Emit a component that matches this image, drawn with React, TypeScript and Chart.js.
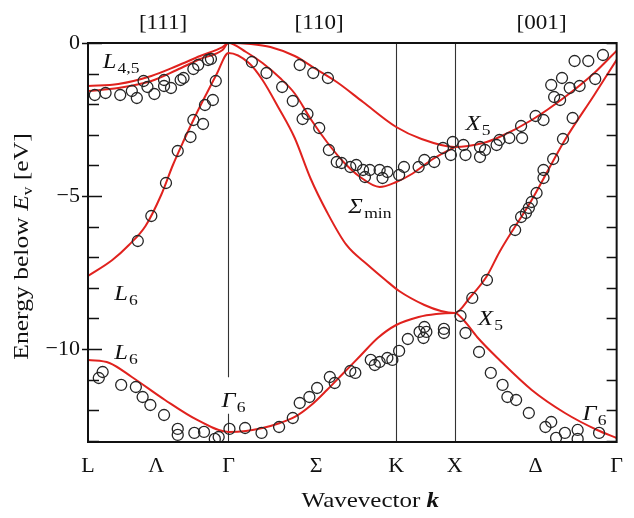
import React, { useEffect, useRef } from "react";
import { Chart, registerables } from "chart.js";

Chart.register(...registerables);

const FONT = "'Liberation Serif', 'Times New Roman', serif";
const RED = "rgb(224,34,30)";
const STRETCH = 1.17;

// Path positions (k in units of 2π/a) of the symmetry points L, Γ, K, X, Γ
const symPointK = [0, 0.872, 1.913, 2.276, 3.281];
const xTickK = [0, 0.424, 0.872, 1.416, 1.913, 2.276, 2.778, 3.281];
const xTickLabels = ["L", "Λ", "Γ", "Σ", "K", "X", "Δ", "Γ"];
const dirLabels = ["[111]", "[110]", "[001]"];
const dirK = [0.466, 1.435, 2.815];
const yTickValues = [0, -5, -10];
const yMin = -13.04;
const yMax = 0;

// Calculated bands (red lines)
const band1K = [0, 0.188, 0.393, 0.551, 0.696, 0.835, 0.872, 1.011, 1.132, 1.283, 1.404, 1.544, 1.707, 1.913, 2.07, 2.276, 2.452, 2.554, 2.754, 2.96, 3.142, 3.281];
const band1E = [-1.405, -1.34, -1.078, -0.752, -0.425, -0.131, 0, -0.033, -0.131, -0.425, -0.817, -1.275, -1.928, -2.745, -3.137, -3.399, -3.268, -3.072, -2.516, -1.765, -0.98, -0.25];

const band2K = [0, 0.188, 0.393, 0.551, 0.696, 0.835, 0.872, 0.981, 1.083, 1.192, 1.283, 1.386, 1.483, 1.586, 1.689, 1.81, 1.913, 2.01, 2.131, 2.276];
const band2E = [-1.569, -1.471, -1.242, -0.882, -0.523, -0.229, 0, -0.294, -0.654, -1.144, -1.65, -2.516, -3.235, -3.889, -4.379, -4.706, -4.542, -4.281, -3.824, -3.399];

const band3K = [0, 0.151, 0.254, 0.357, 0.454, 0.527, 0.593, 0.672, 0.738, 0.799, 0.872, 0.999, 1.083, 1.18, 1.283, 1.38, 1.483, 1.604, 1.737, 1.846, 1.931, 2.088, 2.191, 2.276, 2.373, 2.476, 2.554, 2.754, 2.96, 3.142, 3.281];
const band3E = [-7.614, -7.092, -6.601, -5.98, -4.967, -3.987, -3.203, -2.32, -1.634, -1.013, -0.327, -0.654, -1.209, -2.092, -3.105, -4.412, -5.523, -6.601, -7.255, -7.745, -8.105, -8.562, -8.758, -8.824, -8.301, -7.614, -6.83, -5.131, -3.17, -1.699, -0.55];

const band4K = [0, 0.133, 0.272, 0.478, 0.678, 0.872, 0.981, 1.083, 1.192, 1.283, 1.386, 1.483, 1.586, 1.689, 1.798, 1.913, 2.052, 2.161, 2.276, 2.336, 2.415, 2.554, 2.754, 2.96, 3.16, 3.281];
const band4E = [-10.359, -10.458, -10.915, -11.667, -12.32, -12.712, -12.68, -12.582, -12.418, -12.222, -11.83, -11.34, -10.784, -10.229, -9.641, -9.216, -8.954, -8.856, -8.824, -9.085, -9.608, -10.359, -11.34, -12.092, -12.647, -12.908];

// Measured data (open circles)
const measK = [
  0.042, 0.109, 0.2, 0.272, 0.303, 0.345, 0.369, 0.412, 0.472, 0.472, 0.515, 0.575, 0.593, 0.654, 0.684, 0.745, 0.763, 0.793, 0.775, 0.726,
  0.654, 0.714, 0.636, 0.557, 0.484, 0.393, 0.309,
  1.017, 1.108, 1.205, 1.271, 1.314, 1.362, 1.332, 1.398, 1.435, 1.489, 1.495, 1.544, 1.574, 1.628, 1.665, 1.707, 1.719, 1.749, 1.81, 1.828, 1.858, 1.931, 1.961, 2.052, 2.088, 2.149, 2.203, 2.252, 2.264, 2.33, 2.343, 2.433, 2.433, 2.464, 2.536, 2.554, 2.615, 2.694, 2.688,
  2.778, 2.827, 2.875, 2.893, 2.93, 2.942, 2.99, 3.051, 3.02, 3.105, 3.148, 3.196,
  3.008, 2.948, 2.887, 2.827, 2.827, 2.784, 2.754, 2.736, 2.718, 2.688, 2.651, 2.476, 2.385, 2.312,
  0.067, 0.091, 0.206, 0.297, 0.339, 0.387, 0.472, 0.557, 0.557, 0.66, 0.72, 0.787, 0.811, 0.878, 0.975, 1.077, 1.186, 1.271, 1.314, 1.374, 1.422, 1.501, 1.531, 1.628, 1.659, 1.755, 1.78, 1.81, 1.858, 1.889, 1.931, 1.985, 2.058, 2.088, 2.082, 2.1, 2.209, 2.209, 2.343,
  2.427, 2.5, 2.573, 2.603, 2.657, 2.736, 2.839, 2.875, 2.905, 2.96, 3.039, 3.039, 3.172,
];
const measE = [
  -1.699, -1.634, -1.699, -1.569, -1.797, -1.242, -1.438, -1.667, -1.209, -1.405, -1.471, -1.209, -1.144, -0.85, -0.719, -0.556, -0.523, -1.242, -1.863, -2.026,
  -2.516, -2.647, -3.072, -3.529, -4.575, -5.654, -6.471,
  -0.621, -0.98, -1.438, -1.895, -0.719, -2.32, -2.484, -0.98, -2.778, -1.144, -3.497, -3.889, -3.922, -4.052, -3.987, -4.15, -4.379, -4.15, -4.15, -4.412, -4.216, -4.314, -4.052, -4.052, -3.824, -3.889, -3.431, -3.66, -3.235, -3.333, -3.66, -3.399, -3.725, -3.497, -3.333, -3.17, -3.105, -3.105, -2.712,
  -2.386, -2.516, -1.373, -1.765, -1.863, -1.144, -1.471, -1.405, -0.588, -0.588, -1.176, -0.392,
  -2.451, -3.137, -3.791, -4.15, -4.412, -4.902, -5.196, -5.392, -5.556, -5.686, -6.111, -7.745, -8.333, -8.922,
  -10.948, -10.752, -11.176, -11.242, -11.569, -11.83, -12.157, -12.614, -12.81, -12.745, -12.712, -12.941, -12.876, -12.614, -12.582, -12.745, -12.549, -12.255, -11.765, -11.569, -11.275, -10.915, -11.111, -10.719, -10.784, -10.359, -10.523, -10.425, -10.294, -10.359, -10.065, -9.673, -9.444, -9.281, -9.641, -9.444, -9.346, -9.477, -9.477,
  -10.098, -10.784, -11.176, -11.569, -11.667, -12.092, -12.549, -12.386, -12.908, -12.745, -12.647, -12.941, -12.745,
];

// Level labels
const labelMain = ["L", "X", "Σ", "L", "L", "Γ", "X", "Γ"];
const labelSub = ["4,5", "5", "min", "6", "6", "6", "5", "6"];
const labelK = [0.091, 2.343, 1.616, 0.163, 0.163, 0.829, 2.421, 3.069];
const labelE = [-0.82, -2.843, -5.556, -8.399, -10.327, -11.895, -9.216, -12.32];

const gammaGapE = [-10.92, -12.12];
const xTitleK = 1.752;

const zip = (ks: number[], es: number[]) => ks.map((k, i) => ({ x: k, y: es[i] }));

type Run = { text: string; font: string; dy?: number };

function drawRuns(ctx: CanvasRenderingContext2D, runs: Run[], x: number, y: number, align: "left" | "center", stretch: number) {
  const widths = runs.map((r) => {
    ctx.font = r.font;
    return ctx.measureText(r.text).width;
  });
  const total = widths.reduce((a, b) => a + b, 0) * stretch;
  let cx = align === "center" ? x - total / 2 : x;
  ctx.textAlign = "left";
  ctx.textBaseline = "alphabetic";
  runs.forEach((r, i) => {
    ctx.save();
    ctx.translate(cx, y + (r.dy || 0));
    ctx.scale(stretch, 1);
    ctx.font = r.font;
    ctx.fillText(r.text, 0, 0);
    ctx.restore();
    cx += widths[i] * stretch;
  });
}

const decorPlugin = {
  id: "decor",
  beforeDatasetsDraw(chart: any) {
    const { ctx, chartArea: a, scales } = chart;
    const x = scales.x;
    const y = scales.y;
    ctx.save();
    ctx.strokeStyle = "#333";
    ctx.lineWidth = 1.1;
    const gx = Math.round(x.getPixelForValue(symPointK[1])) + 0.5;
    ctx.beginPath();
    ctx.moveTo(gx, a.top);
    ctx.lineTo(gx, y.getPixelForValue(gammaGapE[0]));
    ctx.moveTo(gx, y.getPixelForValue(gammaGapE[1]));
    ctx.lineTo(gx, a.bottom);
    [symPointK[2], symPointK[3]].forEach((k) => {
      const px = Math.round(x.getPixelForValue(k)) + 0.5;
      ctx.moveTo(px, a.top);
      ctx.lineTo(px, a.bottom);
    });
    ctx.stroke();
    ctx.restore();
  },
  afterDatasetsDraw(chart: any) {
    const { ctx, chartArea: a, scales } = chart;
    const x = scales.x;
    const y = scales.y;
    ctx.save();
    // frame
    ctx.strokeStyle = "#111";
    ctx.lineWidth = 2;
    ctx.strokeRect(a.left, a.top, a.right - a.left, a.bottom - a.top);
    // inward ticks every 1 eV
    ctx.lineWidth = 1.3;
    ctx.beginPath();
    for (let v = 0; v >= Math.ceil(yMin); v--) {
      const py = Math.round(y.getPixelForValue(v)) + 0.5;
      const major = yTickValues.includes(v);
      ctx.moveTo(a.left - (major ? 6 : 0), py);
      ctx.lineTo(a.left + (major ? 14 : 11), py);
      ctx.moveTo(a.right - 10, py);
      ctx.lineTo(a.right, py);
    }
    ctx.stroke();

    ctx.fillStyle = "#111";
    // direction labels on top
    dirLabels.forEach((t, i) => {
      drawRuns(ctx, [{ text: t, font: `21px ${FONT}` }], x.getPixelForValue(dirK[i]), 29, "center", 1.1);
    });
    // level labels
    labelMain.forEach((m, i) => {
      drawRuns(
        ctx,
        [
          { text: m, font: `italic 21px ${FONT}` },
          { text: " ", font: `4px ${FONT}` },
          { text: labelSub[i], font: `15px ${FONT}`, dy: 5 },
        ],
        x.getPixelForValue(labelK[i]),
        y.getPixelForValue(labelE[i]),
        "left",
        STRETCH
      );
    });
    // x title
    drawRuns(
      ctx,
      [
        { text: "Wavevector ", font: `21px ${FONT}` },
        { text: "k", font: `italic bold 21px ${FONT}` },
      ],
      x.getPixelForValue(xTitleK),
      507,
      "center",
      1.19
    );
    // y title
    ctx.save();
    ctx.translate(28, (a.top + a.bottom) / 2 + 4);
    ctx.rotate(-Math.PI / 2);
    drawRuns(
      ctx,
      [
        { text: "Energy below ", font: `21px ${FONT}` },
        { text: "E", font: `italic 21px ${FONT}` },
        { text: "v", font: `14px ${FONT}`, dy: 4 },
        { text: " [eV]", font: `21px ${FONT}` },
      ],
      0,
      0,
      "center",
      1.22
    );
    ctx.restore();
    ctx.restore();
  },
};

export default function App() {
  const ref = useRef<HTMLCanvasElement>(null);
  useEffect(() => {
    const canvas = ref.current;
    if (!canvas) return;
    const lineDs = (ks: number[], es: number[]) => ({
      data: zip(ks, es),
      showLine: true,
      borderColor: RED,
      borderWidth: 2,
      pointRadius: 0,
      pointHoverRadius: 0,
      cubicInterpolationMode: "monotone" as const,
      fill: false,
      order: 2,
    });
    const chart = new Chart(canvas, {
      type: "scatter",
      data: {
        datasets: [
          lineDs(band1K, band1E),
          lineDs(band2K, band2E),
          lineDs(band3K, band3E),
          lineDs(band4K, band4E),
          {
            data: zip(measK, measE),
            showLine: false,
            pointRadius: 5.5,
            pointHoverRadius: 5.5,
            pointBorderWidth: 1.3,
            pointBorderColor: "#262626",
            pointBackgroundColor: "rgba(0,0,0,0)",
            order: 1,
          } as any,
        ],
      },
      options: {
        animation: false,
        responsive: false,
        devicePixelRatio: 1,
        events: [],
        layout: { padding: { top: 43, right: 4, left: 0, bottom: 0 } },
        plugins: { legend: { display: false }, tooltip: { enabled: false } },
        scales: {
          x: {
            type: "linear",
            min: 0,
            max: symPointK[4],
            grid: { display: false, drawTicks: false, tickLength: 0 },
            border: { display: false },
            afterBuildTicks: (s: any) => {
              s.ticks = xTickK.map((v) => ({ value: v }));
            },
            afterFit: (s: any) => {
              s.height = 76;
            },
            ticks: {
              autoSkip: false,
              maxRotation: 0,
              padding: 11,
              color: "#111",
              font: { family: FONT, size: 22 },
              callback: (_v: any, i: number) => xTickLabels[i],
            },
          },
          y: {
            type: "linear",
            min: yMin,
            max: yMax,
            grid: { display: false, drawTicks: false, tickLength: 0 },
            border: { display: false },
            afterBuildTicks: (s: any) => {
              s.ticks = yTickValues.map((v) => ({ value: v }));
            },
            afterFit: (s: any) => {
              s.width = 88;
            },
            ticks: {
              padding: 8,
              color: "#111",
              font: { family: FONT, size: 22 },
              callback: (v: any) => (Number(v) === 0 ? "0" : "\u2212" + Math.abs(Number(v))),
            },
          },
        },
      },
      plugins: [decorPlugin],
    } as any);
    return () => chart.destroy();
  }, []);
  return (
    <div style={{ position: "absolute", left: 0, top: 0, width: 634, height: 518, background: "#fff" }}>
      <canvas ref={ref} width={634} height={518} style={{ display: "block", width: 634, height: 518 }} />
    </div>
  );
}
